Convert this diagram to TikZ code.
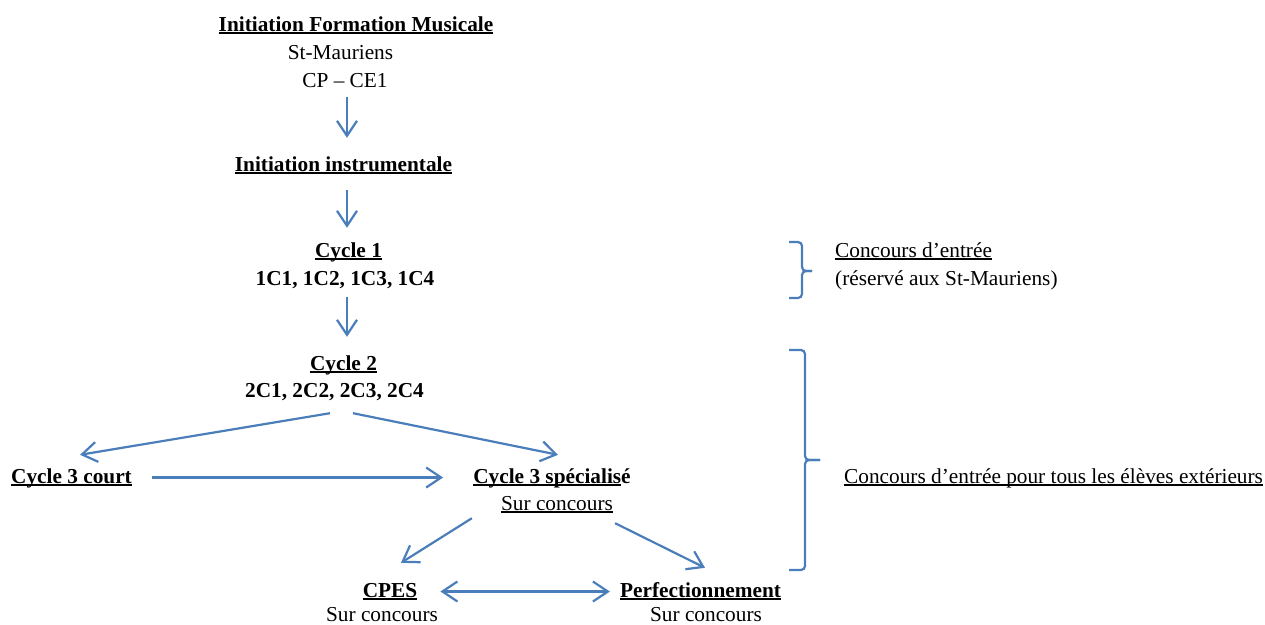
\documentclass[tikz,border=0pt]{standalone}
\usepackage{fontspec}
\setmainfont{Liberation Serif}
\usetikzlibrary{arrows.meta,calc}
\definecolor{arrblue}{HTML}{4A7EBB}
\newsavebox\ulbox
\newcommand\ulx[1]{\sbox\ulbox{#1}\rlap{\rule[-0.12em]{\wd\ulbox}{0.07em}}\usebox\ulbox}
\tikzset{
  txt/.style={inner sep=0pt, anchor=base, text height=16pt, text depth=5pt,
    font=\fontsize{21.3pt}{25pt}\selectfont},
  txtl/.style={txt, anchor=base west},
  lowtxt/.style={txt, text depth=0pt},
  arr/.style={draw=arrblue, line width=2.2pt, -{Straight Barb[length=15pt,width=20pt]}},
  darr/.style={draw=arrblue, line width=2.2pt, {Straight Barb[length=15pt,width=20pt]}-{Straight Barb[length=15pt,width=20pt]}},
  bracestyle/.style={draw=arrblue, line width=2.2pt, rounded corners=4pt}
}
\begin{document}
\begin{tikzpicture}[x=1pt,y=-1pt]
\useasboundingbox (0,0) rectangle (1265,624);
% nodes
\node[txt] (ifm) at (356,31) {\bfseries\ulx{Initiation Formation Musicale}};
\node[txt] (stm) at (340.5,59) {St-Mauriens};
\node[txt] (cp) at (345,87) {CP – CE1};
\node[txt] (ii) at (343.5,171) {\bfseries\ulx{Initiation instrumentale}};
\node[txt] (c1) at (348.5,257) {\bfseries\ulx{Cycle 1}};
\node[txt] (l1) at (345,285) {\bfseries 1C1, 1C2, 1C3, 1C4};
\node[txt] (c2) at (343.5,370) {\bfseries\ulx{Cycle 2}};
\node[txt] (l2) at (334.5,397) {\bfseries 2C1, 2C2, 2C3, 2C4};
\node[txt] (c3c) at (71.5,483) {\bfseries\ulx{Cycle 3 court}};
\node[txt] (c3s) at (552,483) {\bfseries\ulx{Cycle 3 spécialis}é};
\node[txt] (sc1) at (557,510) {\ulx{Sur concours}};
\node[txt] (cpes) at (390,597) {\bfseries\ulx{CPES}};
\node[lowtxt] (sc2) at (382,621.5) {Sur concours};
\node[txt] (perf) at (700.5,597) {\bfseries\ulx{Perfectionnement}};
\node[lowtxt] (sc3) at (706,621.5) {Sur concours};
\node[txtl] (ce1) at (835,257) {\ulx{Concours d’entrée}};
\node[txtl] (ce2) at (835,285) {(réservé aux St-Mauriens)};
\node[txtl] (ce3) at (844,483) {\ulx{Concours d’entrée pour tous les élèves extérieurs}};
% vertical axis
\coordinate (axis) at (347,0);
% arrows
\draw[arr, shorten <=5pt, shorten >=17pt] (axis |- cp.south) -- (axis |- ii.north);
\draw[arr, shorten <=14pt, shorten >=13pt] (axis |- ii.south) -- (axis |- c1.north);
\draw[arr, shorten <=7pt, shorten >=17pt] (axis |- l1.south) -- (axis |- c2.north);
\draw[arr] ($(l2.south)+(-4.5,11)$) -- ($(c3c.north)+(8.5,-12)$);
\draw[arr] ($(l2.south)+(18.5,11)$) -- ($(c3s.north)+(6,-12)$);
\draw[arr, shorten <=20pt, shorten >=30pt] (c3c.east) -- (c3s.west);
\draw[arr] ($(sc1.south west)+(-29,3)$) -- ($(cpes.north)+(11,-18)$);
\draw[arr] ($(sc1.south east)+(2,8)$) -- ($(perf.north)+(4.5,-13)$);
\draw[darr, shorten <=23pt, shorten >=10pt] (cpes.east) -- (perf.west);
% braces
\draw[bracestyle] (789,242) -- (802,242) -- (802,271) -- (812,271);
\draw[bracestyle] (812,271) -- (802,271) -- (802,298) -- (789,298);
\draw[bracestyle] (789,350) -- (805,350) -- (805,460) -- (820,460);
\draw[bracestyle] (820,460) -- (805,460) -- (805,570) -- (789,570);
\end{tikzpicture}
\end{document}
